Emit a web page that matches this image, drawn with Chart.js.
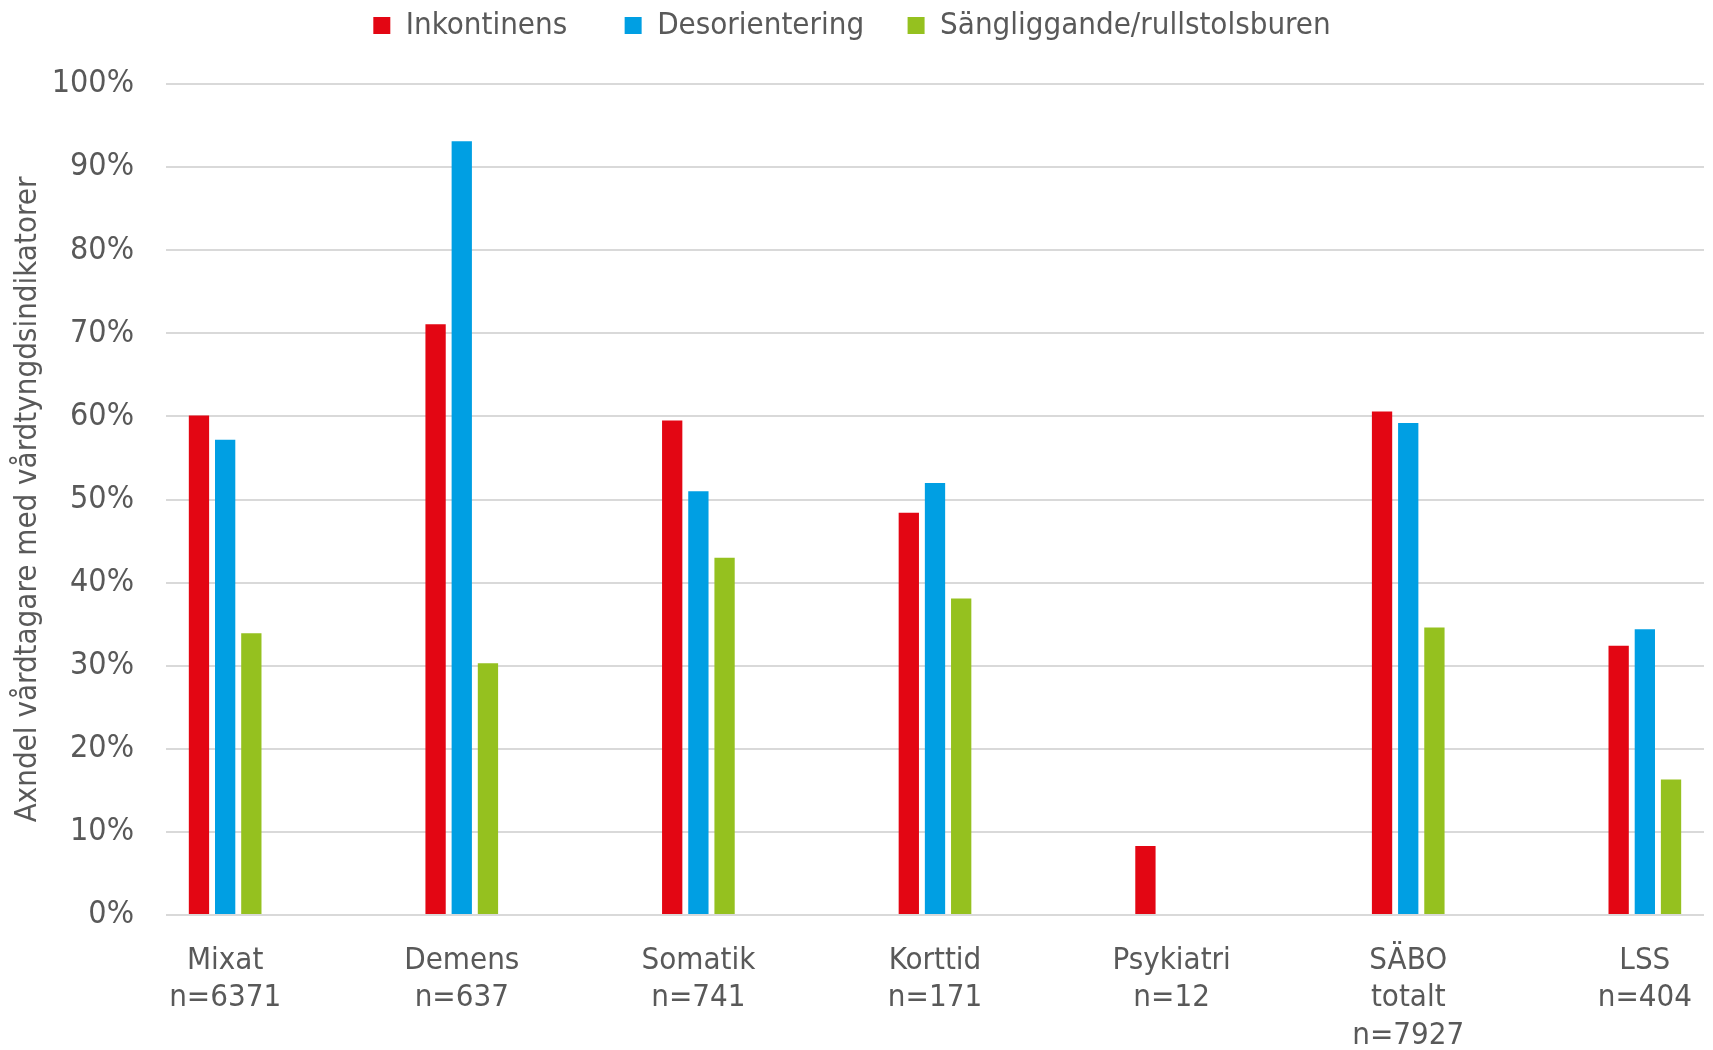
<!DOCTYPE html>
<html>
<head>
<meta charset="utf-8">
<script src="https://cdn.jsdelivr.net/npm/chart.js@4.4.1/dist/chart.umd.min.js"></script>
<style>
  html, body { margin: 0; padding: 0; background: #fff; }
  #wrap { width: 1713px; height: 1050px; }
</style>
</head>
<body>
<div id="wrap"><canvas id="chart"></canvas></div>
<script>
const categories = [
    ['Mixat', 'n=6371'],
    ['Demens', 'n=637'],
    ['Somatik', 'n=741'],
    ['Korttid', 'n=171'],
    ['Psykiatri', 'n=12'],
    ['SÄBO', 'totalt', 'n=7927'],
    ['LSS', 'n=404']
];
const seriesNames = ['Inkontinens', 'Desorientering', 'Sängliggande/rullstolsburen'];
const inkontinens = [60.1, 71.1, 59.5, 48.4, 8.3, 60.6, 32.4];
const desorientering = [57.2, 93.1, 51.0, 52.0, null, 59.2, 34.4];
const sangliggande = [33.9, 30.3, 43.0, 38.1, null, 34.6, 16.3];
const yTitle = 'Axndel vårdtagare med vårdtyngdsindikatorer';
const colors = ['#E30613', '#009FE3', '#95C11F'];

const textColor = '#595959';
const gridColor = '#d9d9d9';
// space after each legend entry
const legendGaps = ['\u2003\u2002\u2009', '\u2003\u2009', ''];

Chart.defaults.font.family = '"DejaVu Sans Condensed", "Liberation Sans", sans-serif';
Chart.defaults.font.size = 31;
Chart.defaults.color = textColor;

// extra room under the legend
const legendSpacing = {
    id: 'legendSpacing',
    beforeInit(chart) {
        if (!chart.legend) return;
        const fit = chart.legend.fit;
        chart.legend.fit = function () {
            fit.call(this);
            this.height += 33;
        };
    }
};

const toPoints = arr => arr.map((v, i) => ({ x: i, y: v }));

window.onload = () => {
    const ctx = document.getElementById('chart').getContext('2d');

    new Chart(ctx, {
        type: 'bar',
        data: {
            datasets: [inkontinens, desorientering, sangliggande].map((vals, i) => ({
                label: seriesNames[i],
                data: toPoints(vals),
                backgroundColor: colors[i],
                borderWidth: 0,
                categoryPercentage: 0.332,
                barPercentage: 0.775
            }))
        },
        plugins: [legendSpacing],
        options: {
            responsive: true,
            maintainAspectRatio: false,
            animation: false,
            layout: { padding: { top: 0, right: 9, bottom: 0, left: 0 } },
            plugins: {
                tooltip: { enabled: false },
                legend: {
                    position: 'top',
                    labels: {
                        boxWidth: 17,
                        boxHeight: 17,
                        padding: 10,
                        color: textColor,
                        font: { size: 31 },
                        generateLabels(chart) {
                            const items = Chart.defaults.plugins.legend.labels.generateLabels(chart);
                            items.forEach((it, i) => { it.text += legendGaps[i] || ''; });
                            return items;
                        }
                    }
                }
            },
            scales: {
                x: {
                    type: 'linear',
                    min: -0.25,
                    max: 6.25,
                    bounds: 'data',
                    offset: false,
                    afterBuildTicks: axis => {
                        axis.ticks = categories.map((c, i) => ({ value: i }));
                    },
                    afterFit: axis => {
                        axis.height = 135;
                        axis.paddingLeft = 0;
                        axis.paddingRight = 0;
                    },
                    ticks: {
                        autoSkip: false,
                        maxRotation: 0,
                        padding: 27,
                        color: textColor,
                        font: { size: 31, lineHeight: 1.21 },
                        callback: v => categories[v]
                    },
                    grid: { display: false, drawTicks: false, offset: false },
                    border: { display: false }
                },
                y: {
                    min: 0,
                    max: 100,
                    afterFit: axis => { axis.width = 166; },
                    ticks: {
                        stepSize: 10,
                        padding: 32,
                        color: textColor,
                        font: { size: 32 },
                        callback: v => v + '%'
                    },
                    grid: { color: gridColor, lineWidth: 2, drawTicks: false },
                    border: { display: false },
                    title: {
                        display: true,
                        text: yTitle,
                        color: textColor,
                        font: { size: 31 },
                        padding: { top: 9, bottom: 6 }
                    }
                }
            }
        }
    });
};
</script>
</body>
</html>
